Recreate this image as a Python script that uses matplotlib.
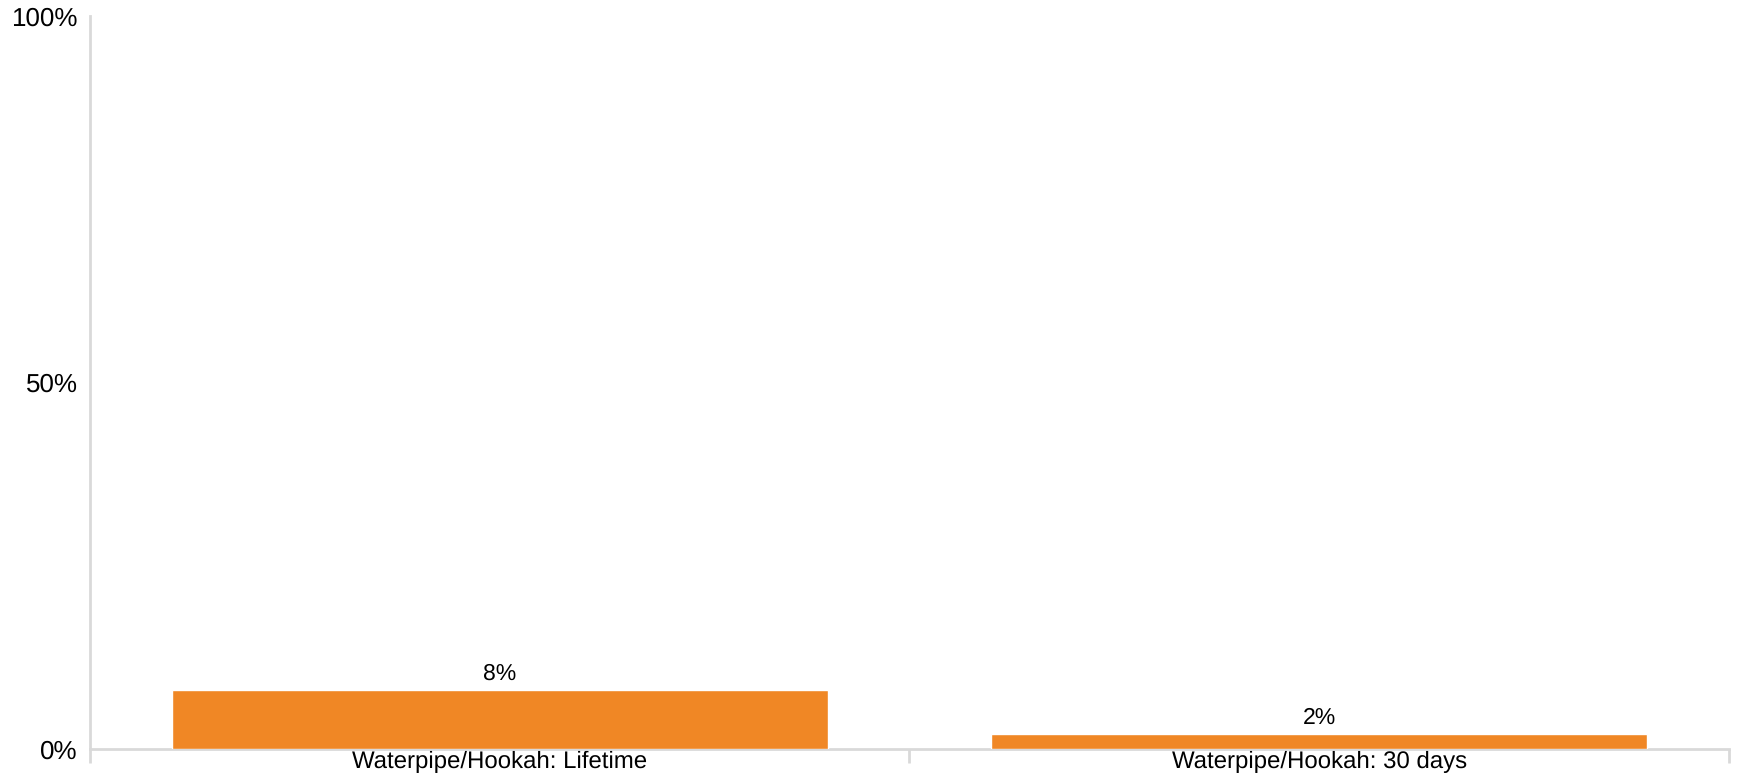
import matplotlib
matplotlib.use("Agg")
import matplotlib.pyplot as plt

# Waterpipe / hookah use prevalence (percent)
categories = ["Waterpipe/Hookah: Lifetime", "Waterpipe/Hookah: 30 days"]
values = [8, 2]
value_labels = ["8%", "2%"]
y_ticks = [0, 50, 100]
y_tick_labels = ["0%", "50%", "100%"]

BAR_COLOR = "#F08725"
AXIS_COLOR = "#D9D9D9"

plt.rcParams["font.family"] = ["Liberation Sans", "DejaVu Sans"]
plt.rcParams["text.hinting"] = "no_hinting"
plt.rcParams["text.hinting_factor"] = 1

fig = plt.figure(figsize=(17.38, 7.77), dpi=100)
ax = fig.add_axes([0.0518, 0.036, 0.9430, 0.943])

x = list(range(len(categories)))
bars = ax.bar(x, values, width=0.8, color=BAR_COLOR, edgecolor="white",
              linewidth=1.0, zorder=3)

for b, lab in zip(bars, value_labels):
    ax.annotate(lab, (b.get_x() + b.get_width() / 2, b.get_height()),
                xytext=(0, 4), textcoords="offset points",
                ha="center", va="bottom", fontsize=16.5, color="#000000")

ax.set_xlim(-0.5, len(categories) - 0.5)
ax.set_ylim(0, 100)

# category boundaries as tick marks, names centred under each bar
ax.set_xticks([i - 0.5 for i in range(len(categories) + 1)])
ax.set_xticklabels([])
ax.tick_params(axis="x", which="major", direction="out", length=10,
               width=2, color=AXIS_COLOR)
ax.set_xticks(x, minor=True)
ax.set_xticklabels(categories, minor=True, fontsize=17)
ax.tick_params(axis="x", which="minor", length=0, pad=1.5)

ax.set_yticks(y_ticks)
ax.set_yticklabels(y_tick_labels, fontsize=18.5)
ax.tick_params(axis="y", length=0, pad=9)

for side in ("top", "right"):
    ax.spines[side].set_visible(False)
for side in ("left", "bottom"):
    ax.spines[side].set_color(AXIS_COLOR)
    ax.spines[side].set_linewidth(2)

fig.savefig("out.png", dpi=100, facecolor="white")
